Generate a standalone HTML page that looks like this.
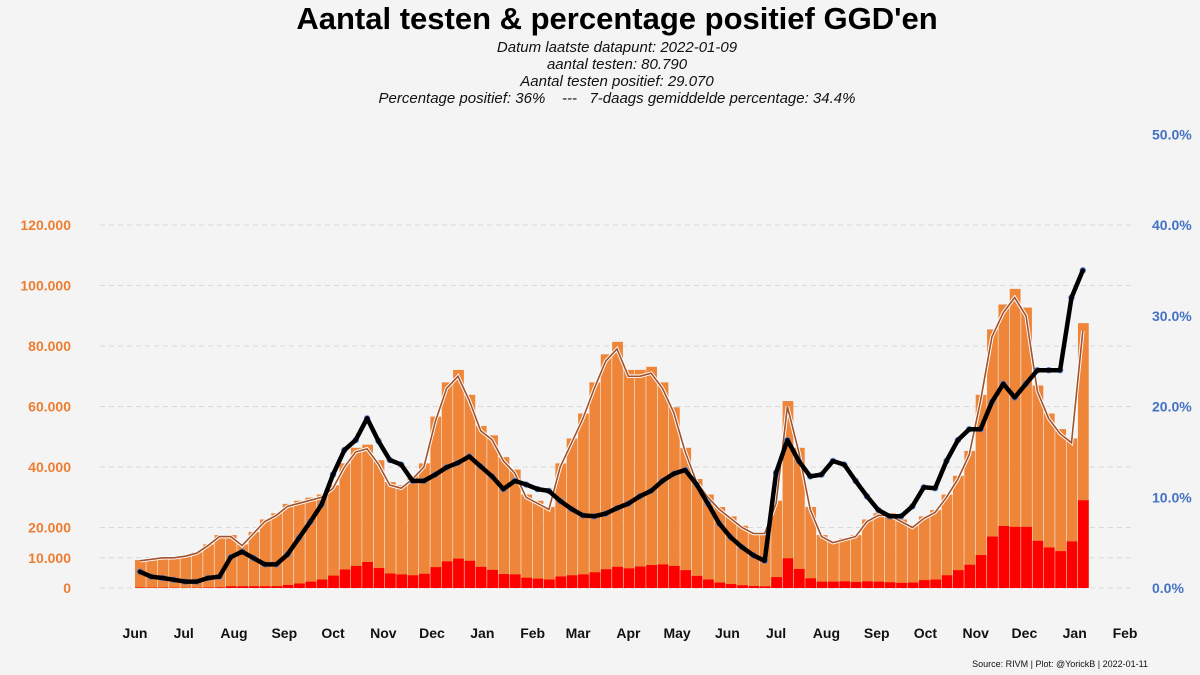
<!DOCTYPE html>
<html><head><meta charset="utf-8">
<style>
body{margin:0;background:#f4f4f4;width:1200px;height:675px;overflow:hidden;font-family:"Liberation Sans",sans-serif;}
svg{display:block}
</style></head>
<body>
<svg id="chart" width="1200" height="675">
<text x="617" y="29" text-anchor="middle" font-size="31" font-weight="bold" fill="#000">Aantal testen &amp; percentage positief GGD'en</text>
<g font-size="15" font-style="italic" fill="#111" text-anchor="middle">
<text x="617" y="52">Datum laatste datapunt: 2022-01-09</text>
<text x="617" y="69">aantal testen: 80.790</text>
<text x="617" y="86">Aantal testen positief: 29.070</text>
<text x="617" y="103" style="white-space:pre" xml:space="preserve">Percentage positief: 36%    ---   7-daags gemiddelde percentage: 34.4%</text>
</g>
<g id="grid"></g>
<g id="bars"></g>
<g id="lines"></g>
<g id="axes"></g>
<text x="1148" y="667" text-anchor="end" font-size="9" fill="#111">Source: RIVM | Plot: @YorickB |  2022-01-11</text>
</svg>
<script>
const weekStart = "2020-06-01";
const totals = [9,9.5,10,10,10.5,11.5,14,17,17,14,18,22,24,27,28,29,30,33,40,45,46,41,34,33,36,40,55,66,70,62,52,49,42,38,30,28,26,40,48,56,66,75,79,70,70,71,66,58,45,35,30,26,23,20,18,18,28,60,45,26,17,15,16,17,22,24,24,22,20,23,25,30,36,44,62,83,91,96,90,65,56,51,48,85];
const positives = [0.16,0.12,0.11,0.09,0.07,0.08,0.15,0.21,0.58,0.56,0.59,0.57,0.62,1.0,1.5,2.1,2.8,4.1,6.1,7.3,8.6,6.6,4.8,4.5,4.2,4.7,6.9,8.8,9.7,9.0,7.0,6.0,4.6,4.5,3.4,3.1,2.8,3.8,4.2,4.5,5.2,6.2,7.0,6.5,7.1,7.6,7.8,7.3,5.9,4.0,2.8,1.8,1.3,0.9,0.65,0.54,3.6,9.8,6.3,3.2,2.1,2.1,2.2,2.0,2.2,2.1,1.9,1.7,1.8,2.6,2.8,4.2,5.9,7.7,10.9,17,20.5,20.2,20.2,15.6,13.4,12.2,15.4,29];
const percentages = [1.8,1.25,1.1,0.9,0.7,0.7,1.1,1.25,3.4,4.0,3.3,2.6,2.6,3.7,5.5,7.3,9.2,12.5,15.2,16.3,18.7,16.2,14.1,13.6,11.8,11.8,12.5,13.3,13.8,14.5,13.4,12.3,10.9,11.8,11.4,10.9,10.7,9.6,8.7,8.0,7.9,8.2,8.8,9.3,10.1,10.7,11.8,12.6,13.0,11.4,9.3,7.1,5.6,4.5,3.6,3.0,12.7,16.3,14.0,12.3,12.5,14.0,13.6,11.8,10.1,8.6,7.9,7.9,9.0,11.1,11,14,16.3,17.5,17.5,20.5,22.5,21,22.5,24,24,24,32,35];
const leftTicks = [0,10,20,40,60,80,100,120];
const leftTickLabels = ["0","10.000","20.000","40.000","60.000","80.000","100.000","120.000"];
const rightTicks = [0,10,20,30,40,50];
const rightTickLabels = ["0.0%","10.0%","20.0%","30.0%","40.0%","50.0%"];
const monthLabels = ["Jun","Jul","Aug","Sep","Oct","Nov","Dec","Jan","Feb","Mar","Apr","May","Jun","Jul","Aug","Sep","Oct","Nov","Dec","Jan","Feb"];
const monthDays = [0,30,61,92,122,153,183,214,245,273,304,334,365,395,426,457,487,518,548,579,610];

const NS="http://www.w3.org/2000/svg";
const x0=135, pxDay=1.623, yBase=588;
const xDay=d=>x0+d*pxDay;
const yL=v=>yBase-v*3.025;
const yR=p=>yBase-p*9.075;
function mk(tag,attrs,parent){const e=document.createElementNS(NS,tag);for(const k in attrs)e.setAttribute(k,attrs[k]);parent.appendChild(e);return e;}
const grid=document.getElementById('grid'),bars=document.getElementById('bars'),lines=document.getElementById('lines'),axes=document.getElementById('axes');

leftTicks.forEach((t,i)=>{
  const l=mk('line',{x1:100,x2:1132,y1:yL(t),y2:yL(t),stroke:'#d8d8d8','stroke-dasharray':'5,4','stroke-width':1},grid);
  
  
  const tx=mk('text',{x:71,y:yL(t)+5,'text-anchor':'end','font-size':14,'font-weight':'bold',fill:'#ED7D31'},axes);
  tx.textContent=leftTickLabels[i];
  
  
});
rightTicks.forEach((t,i)=>{
  const tx=mk('text',{x:1152,y:yR(t)+5,'font-size':14,'font-weight':'bold',fill:'#4472C4'},axes);
  tx.textContent=rightTickLabels[i];
  
  
});
monthLabels.forEach((m,i)=>{
  const tx=mk('text',{x:xDay(monthDays[i]),y:638,'text-anchor':'middle','font-size':14,'font-weight':'bold',fill:'#111'},axes);
  tx.textContent=m;
  
  
});

const bw=7*pxDay;
totals.forEach((v,i)=>{
  const xs=xDay(i*7);
  const b=mk('rect',{x:xs,y:yL(v*1.03),width:bw-0.6,height:yBase-yL(v*1.03),fill:'#EF8538'},bars);
  
  
});
positives.forEach((v,i)=>{
  const xs=xDay(i*7);
  const b=mk('rect',{x:xs,y:yL(v),width:bw-0.6,height:yBase-yL(v),fill:'#FF0000'},bars);
  
  
});
const cx=i=>xDay(i*7+3);
function pts(arr,fy){return arr.map((v,i)=>cx(i).toFixed(1)+','+fy(v).toFixed(1)).join(' ');}
mk('polyline',{points:pts(totals,yL),fill:'none',stroke:'#fff','stroke-width':3.5},lines);
const tl=mk('polyline',{points:pts(totals,yL),fill:'none',stroke:'#A0522D','stroke-width':1.6},lines);


const bl=mk('polyline',{points:pts(percentages,yR),fill:'none',stroke:'#4472C4','stroke-width':2},lines);


percentages.forEach((p,i)=>{
  const c=mk('circle',{cx:cx(i),cy:yR(p),r:3.2,fill:'#5B82CC'},lines);
  
  
});
const kl=mk('polyline',{points:pts(percentages,yR),fill:'none',stroke:'#000','stroke-width':4.5,'stroke-linejoin':'round','stroke-linecap':'round'},lines);


</script>
</body></html>
